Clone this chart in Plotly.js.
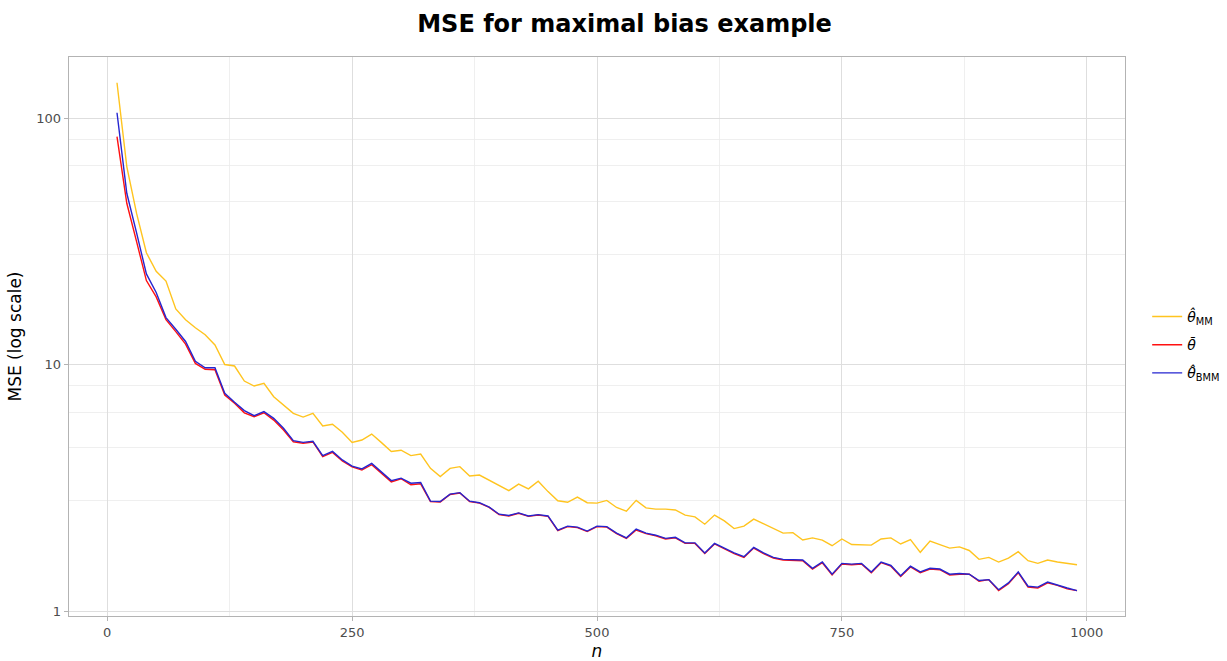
<!DOCTYPE html>
<html>
<head>
<meta charset="utf-8">
<script src="https://cdn.plot.ly/plotly-3.0.1.min.js"></script>
<style>html,body{margin:0;padding:0;background:#fff;}#chart{width:1227px;height:661px;}</style>
</head>
<body>
<div id="chart"></div>
<script>
const nValues = [10,20,30,40,50,60,70,80,90,100,110,120,130,140,150,160,170,180,190,200,
  210,220,230,240,250,260,270,280,290,300,310,320,330,340,350,360,370,380,390,400,
  410,420,430,440,450,460,470,480,490,500,510,520,530,540,550,560,570,580,590,600,
  610,620,630,640,650,660,670,680,690,700,710,720,730,740,750,760,770,780,790,800,
  810,820,830,840,850,860,870,880,890,900,910,920,930,940,950,960,970,980,990];

const mseMM = [139,63.5,41,28.4,23.9,21.8,16.8,15.2,14.1,13.2,12.0,10.0,9.86,8.57,8.18,8.39,7.40,6.85,6.34,6.12,
  6.34,5.63,5.72,5.31,4.83,4.94,5.22,4.82,4.44,4.49,4.27,4.33,3.79,3.51,3.79,3.85,3.53,3.56,3.40,3.25,
  3.08,3.27,3.13,3.36,3.05,2.80,2.76,2.90,2.75,2.74,2.81,2.63,2.54,2.81,2.62,2.59,2.59,2.57,2.45,2.41,
  2.25,2.45,2.32,2.16,2.21,2.36,2.26,2.16,2.07,2.08,1.94,1.98,1.94,1.84,1.96,1.86,1.86,1.85,1.96,1.98,
  1.87,1.95,1.73,1.92,1.86,1.80,1.82,1.76,1.62,1.65,1.58,1.64,1.74,1.60,1.56,1.61,1.58,1.56,1.54];

const mseBar = [84,45.1,31.5,21.9,18.8,15.2,13.6,12.1,10.1,9.56,9.52,7.52,6.96,6.37,6.14,6.37,5.95,5.42,4.86,4.79,
  4.85,4.23,4.40,4.06,3.84,3.73,3.92,3.61,3.34,3.44,3.25,3.28,2.78,2.77,2.97,3.01,2.78,2.74,2.63,2.46,
  2.43,2.49,2.42,2.45,2.42,2.12,2.20,2.18,2.10,2.20,2.19,2.06,1.97,2.13,2.06,2.02,1.96,1.98,1.88,1.88,
  1.71,1.87,1.79,1.71,1.65,1.80,1.71,1.64,1.61,1.60,1.60,1.48,1.57,1.40,1.55,1.54,1.55,1.43,1.57,1.52,
  1.38,1.51,1.43,1.48,1.47,1.40,1.41,1.41,1.32,1.34,1.21,1.29,1.43,1.25,1.24,1.30,1.27,1.23,1.21];

const mseBMM = [105,49.5,34.2,23.3,19.6,15.5,13.9,12.4,10.3,9.7,9.7,7.64,7.03,6.50,6.20,6.44,6.05,5.51,4.91,4.83,
  4.88,4.27,4.44,4.10,3.87,3.77,3.97,3.65,3.38,3.46,3.30,3.32,2.79,2.78,2.98,3.02,2.79,2.75,2.64,2.47,
  2.44,2.50,2.43,2.46,2.43,2.13,2.21,2.19,2.11,2.21,2.20,2.07,1.98,2.15,2.07,2.03,1.97,1.99,1.89,1.89,
  1.72,1.88,1.80,1.72,1.66,1.81,1.72,1.65,1.62,1.61,1.61,1.49,1.58,1.41,1.56,1.55,1.56,1.44,1.58,1.53,
  1.39,1.52,1.44,1.49,1.48,1.41,1.42,1.41,1.33,1.34,1.22,1.30,1.44,1.26,1.25,1.31,1.27,1.24,1.21];

const seriesNames = ['<i>θ̂</i><sub>MM</sub>', '<i>θ̄</i>', '<i>θ̂</i><sub>BMM</sub>'];
const xTicks = [0,250,500,750,1000];
const xMinor = [125,375,625,875];
const yTicks = [1,10,100];
const yTickText = ['1','10','100'];
const yMinor = [2.8,4.6,6.4,8.2,28,46,64,82];

const traces = [
  {x:nValues, y:mseMM, name:seriesNames[0], legendgroup:'a', type:'scatter', mode:'lines', line:{color:'#FFC41F', width:1.4}},
  {x:nValues, y:mseBar, name:seriesNames[1], legendgroup:'b', type:'scatter', mode:'lines', line:{color:'#FF1010', width:1.4}},
  {x:nValues, y:mseBMM, name:seriesNames[2], legendgroup:'c', type:'scatter', mode:'lines', line:{color:'#2525D0', width:1.4}}
];

const layout = {
  width:1227, height:661,
  margin:{l:69, r:102, t:57, b:45, autoexpand:false},
  paper_bgcolor:'#ffffff', plot_bgcolor:'#ffffff',
  font:{family:'DejaVu Sans, sans-serif', color:'#000'},
  title:{text:'<b>MSE for maximal bias example</b>', x:0.509, xanchor:'center', y:0.965, yanchor:'middle',
         font:{size:24, color:'#000', family:'DejaVu Sans, sans-serif'}},
  xaxis:{
    range:[-39,1039], tickvals:xTicks, ticktext:xTicks.map(String),
    showgrid:true, gridcolor:'#DEDEDE', gridwidth:1,
    minor:{tickvals:xMinor, showgrid:true, gridcolor:'#EBEBEB', gridwidth:0.8, ticks:''},
    zeroline:false, showline:true, mirror:true, linecolor:'#B3B3B3', linewidth:1.3,
    ticks:'outside', ticklen:4, tickcolor:'#B3B3B3', tickwidth:1,
    tickfont:{size:13, color:'#4D4D4D'},
    title:{text:'<i>n</i>', font:{size:17, color:'#000'}, standoff:8}
  },
  yaxis:{
    type:'log', range:[-0.0203, 2.2475], tickvals:yTicks, ticktext:yTickText,
    showgrid:true, gridcolor:'#DEDEDE', gridwidth:1,
    minor:{tickvals:yMinor, showgrid:true, gridcolor:'#EBEBEB', gridwidth:0.8, ticks:''},
    zeroline:false, showline:true, mirror:true, linecolor:'#B3B3B3', linewidth:1.3,
    ticks:'outside', ticklen:4, tickcolor:'#B3B3B3', tickwidth:1,
    tickfont:{size:13, color:'#4D4D4D'},
    title:{text:'MSE (log scale)', font:{size:17, color:'#000'}, standoff:10}
  },
  showlegend:true,
  legend:{x:1.021, xanchor:'left', y:0.485, yanchor:'middle', font:{size:14, color:'#000'},
          bgcolor:'rgba(0,0,0,0)', itemwidth:30, tracegroupgap:7}
};

Plotly.newPlot('chart', traces, layout, {displayModeBar:false, staticPlot:true});
</script>
</body>
</html>
